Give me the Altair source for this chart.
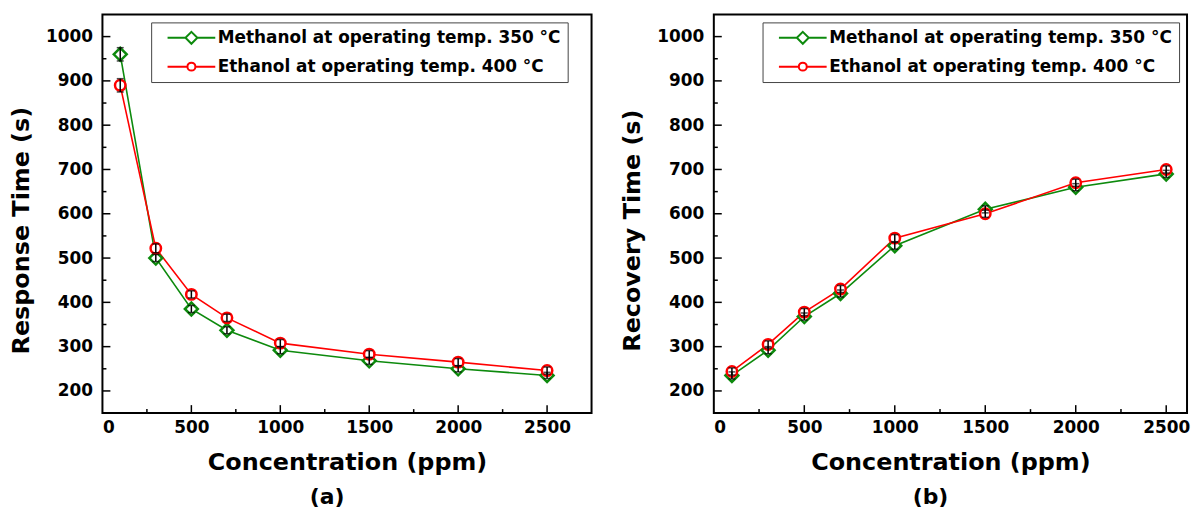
import altair as alt
import pandas as pd

# ---------------- data ----------------
SERIES = ["Methanol at operating temp. 350 °C", "Ethanol at operating temp. 400 °C"]
CONC = [100, 300, 500, 700, 1000, 1500, 2000, 2500]

RESP_METH = [960, 500, 385, 337, 292, 268, 250, 235]
RESP_METH_ERR = [15, 8, 8, 8, 8, 8, 7, 7]
RESP_ETH = [890, 522, 418, 365, 308, 283, 265, 246]
RESP_ETH_ERR = [15, 10, 8, 8, 8, 8, 8, 8]

REC_METH = [235, 292, 368, 420, 528, 610, 660, 690]
REC_METH_ERR = [8, 8, 8, 8, 8, 8, 8, 8]
REC_ETH = [244, 305, 378, 430, 545, 600, 670, 700]
REC_ETH_ERR = [8, 8, 8, 8, 8, 8, 8, 8]

X_LABELS = [0, 500, 1000, 1500, 2000, 2500]
X_MAJOR = [500, 1000, 1500, 2000, 2500]
X_MINOR = [250, 750, 1250, 1750, 2250]
Y_LABELS = [200, 300, 400, 500, 600, 700, 800, 900, 1000]
Y_MINOR = [250, 350, 450, 550, 650, 750, 850, 950]

GREEN = "#0d8a0d"
RED = "#ff0000"
FONT = "DejaVu Sans"

PATH_DIAMOND = "M-4.8,0H-1.2M1.2,0H4.8M0,-1.2L1.2,0L0,1.2L-1.2,0Z"
PATH_CIRCLE = "M-4.8,0H-0.8M0.8,0H4.8M0.8,0A0.8,0.8,0,1,1,-0.8,0A0.8,0.8,0,1,1,0.8,0Z"


def make_df(meth, meth_err, eth, eth_err):
    rows = []
    for name, vals, errs in [(SERIES[0], meth, meth_err), (SERIES[1], eth, eth_err)]:
        for c, v, e in zip(CONC, vals, errs):
            rows.append({"conc": c, "val": v, "lo": v - e, "hi": v + e, "series": name})
    return pd.DataFrame(rows)


def panel(df, ytitle, letter, width, height, xmax):
    xs = alt.Scale(domain=[0, xmax], nice=False, zero=False)
    ys = alt.Scale(domain=[150, 1050], nice=False, zero=False)
    cs = alt.Scale(domain=SERIES, range=[GREEN, RED])

    xax = alt.Axis(title="Concentration (ppm)", values=X_LABELS, format="d", labelPadding=7,
                   titlePadding=15, ticks=False, domain=False, grid=False)
    yax = alt.Axis(title=ytitle, values=Y_LABELS, format="d", labelPadding=10,
                   titlePadding=12, titleY=217, ticks=False, domain=False, grid=False)
    leg = alt.Legend(
        title=None, orient="none", legendX=49, legendY=8,
        strokeColor="#444444", fillColor="white", padding=7,
        symbolSize=100, symbolOffset=25, labelOffset=18, symbolStrokeWidth=2,
        labelFont=FONT, labelFontSize=17, labelFontWeight="bold", labelColor="black",
        labelLimit=0, rowPadding=9,
    )

    def X(f):
        return alt.X(f, scale=xs, axis=xax)

    def Y(f):
        return alt.Y(f, scale=ys, axis=yax)

    base = alt.Chart(df)
    line = base.mark_line(strokeWidth=1.6).encode(
        x=X("conc:Q"), y=Y("val:Q"),
        color=alt.Color("series:N", scale=cs, legend=leg),
    )
    pts_m = base.transform_filter(alt.datum.series == SERIES[0]).mark_point(
        shape="diamond", size=170, filled=False, fill="white", stroke=GREEN, strokeWidth=2.5, opacity=1
    ).encode(x=X("conc:Q"), y=Y("val:Q"))
    pts_e = base.transform_filter(alt.datum.series == SERIES[1]).mark_point(
        shape="circle", size=110, filled=False, fill="white", stroke=RED, strokeWidth=2.5, opacity=1
    ).encode(x=X("conc:Q"), y=Y("val:Q"))
    err = base.mark_rule(color="black", strokeWidth=1.5).encode(
        x=X("conc:Q"), y=Y("lo:Q"), y2="hi:Q",
    )
    cap_lo = base.mark_tick(color="black", orient="horizontal", size=7, thickness=1.5).encode(
        x=X("conc:Q"), y=Y("lo:Q"))
    cap_hi = base.mark_tick(color="black", orient="horizontal", size=7, thickness=1.5).encode(
        x=X("conc:Q"), y=Y("hi:Q"))

    legend_layer = base.transform_filter("false").mark_point(filled=False, strokeWidth=2, opacity=1).encode(
        x=X("conc:Q"), y=Y("val:Q"),
        color=alt.Color("series:N", scale=cs, legend=leg),
        shape=alt.Shape("series:N", scale=alt.Scale(domain=SERIES, range=[PATH_DIAMOND, PATH_CIRCLE]), legend=leg),
    )

    # inward ticks
    xmaj = alt.Chart(pd.DataFrame({"conc": X_MAJOR})).mark_rule(color="black", strokeWidth=1.5).encode(
        x=X("conc:Q"), y=alt.value(height), y2=alt.value(height - 8))
    xmin = alt.Chart(pd.DataFrame({"conc": X_MINOR})).mark_rule(color="black", strokeWidth=1.5).encode(
        x=X("conc:Q"), y=alt.value(height), y2=alt.value(height - 4))
    ymaj = alt.Chart(pd.DataFrame({"val": Y_LABELS})).mark_rule(color="black", strokeWidth=1.5).encode(
        y=Y("val:Q"), x=alt.value(0), x2=alt.value(8))
    ymin = alt.Chart(pd.DataFrame({"val": Y_MINOR})).mark_rule(color="black", strokeWidth=1.5).encode(
        y=Y("val:Q"), x=alt.value(0), x2=alt.value(4))

    return alt.layer(line, xmaj, xmin, ymaj, ymin, pts_m, pts_e, err, cap_lo, cap_hi, legend_layer).properties(
        width=width, height=height,
        title=alt.TitleParams(letter, orient="bottom", anchor="middle", frame="group", dx=-20,
                              fontSize=22, fontWeight="bold", font=FONT, color="black", offset=12),
    )


left = panel(make_df(RESP_METH, RESP_METH_ERR, RESP_ETH, RESP_ETH_ERR), "Response Time (s)", "(a)", 492, 401, 2750)
right = panel(make_df(REC_METH, REC_METH_ERR, REC_ETH, REC_ETH_ERR), "Recovery Time (s)", "(b)", 476, 401, 2615)

chart = alt.hconcat(left, right, spacing=27).resolve_scale(
    color="independent", shape="independent"
).resolve_legend(
    color="independent", shape="independent"
).properties(
    padding={"left": 0, "top": 4, "right": 0, "bottom": 0}
).configure_view(
    stroke="black", strokeWidth=2
).configure_axis(
    labelFont=FONT, labelFontSize=17, labelFontWeight="bold", labelColor="black",
    titleFont=FONT, titleFontSize=24, titleFontWeight="bold", titleColor="black",
)

chart.save("out.html", embed_options={"renderer": "svg", "actions": False})
